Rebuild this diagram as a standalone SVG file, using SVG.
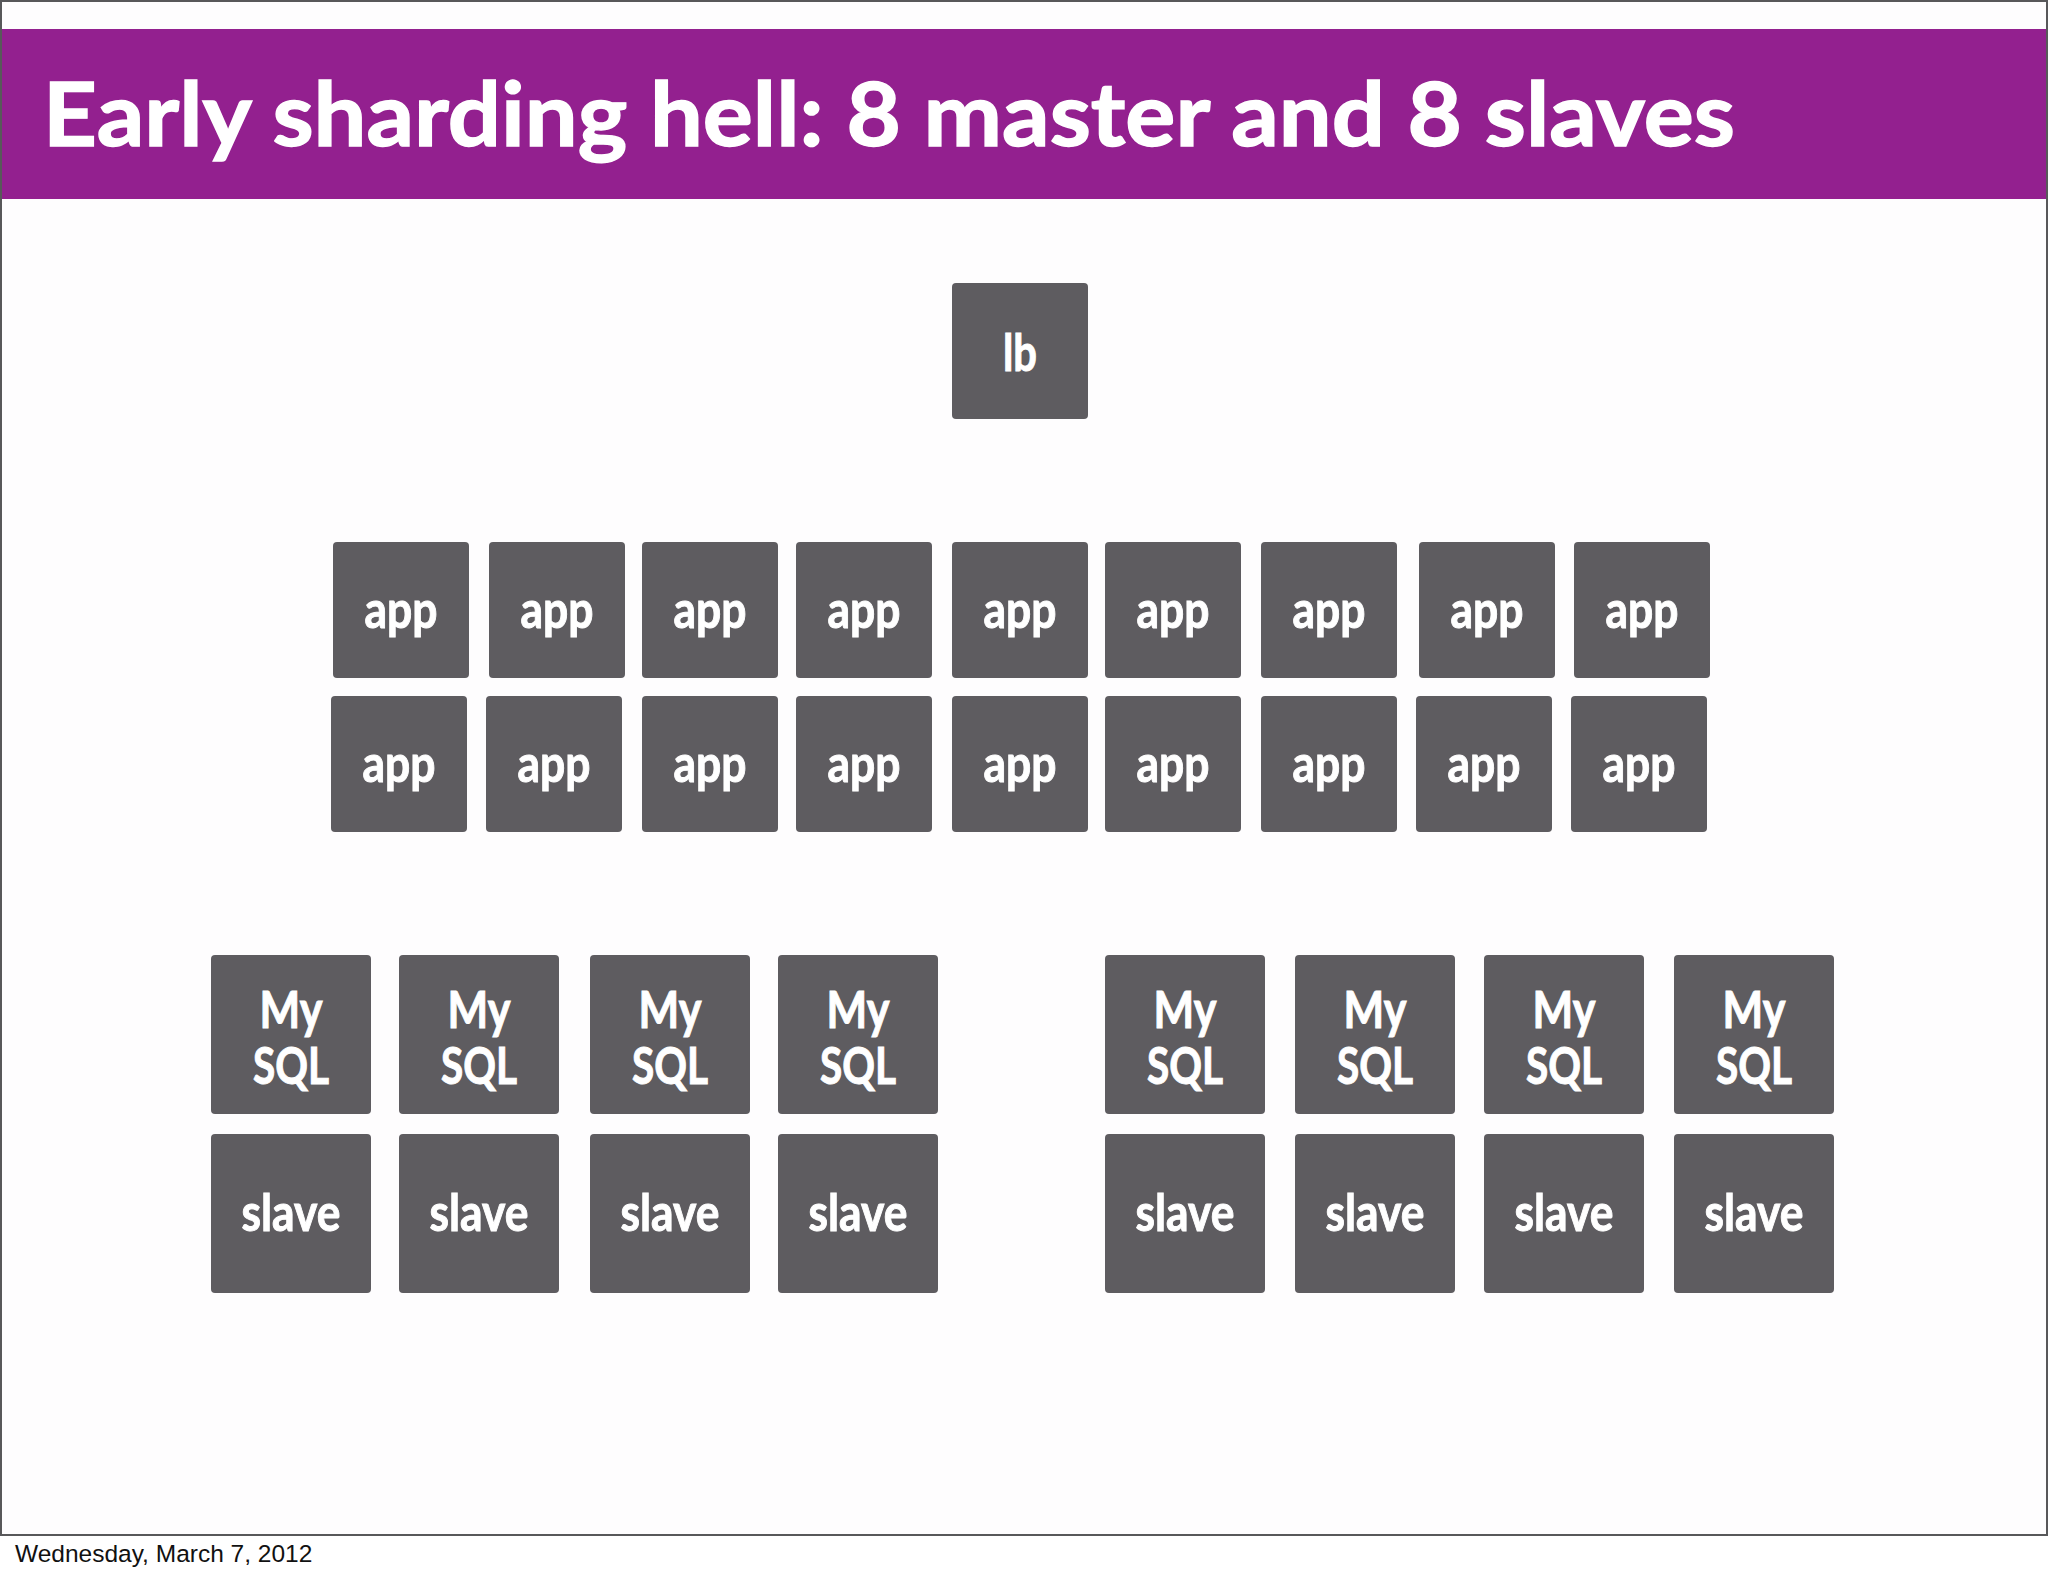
<svg xmlns="http://www.w3.org/2000/svg" width="2048" height="1576" viewBox="0 0 2048 1576">
<style>
.box{fill:#5e5c60;}
.lbl{fill:#ffffff;stroke:#ffffff;stroke-width:1;font-family:Lato,"Open Sans","Liberation Sans",sans-serif;font-weight:700;font-size:52px;text-anchor:middle;}
.title{fill:#ffffff;stroke:#ffffff;stroke-width:1.4;font-family:Lato,"Open Sans","Liberation Sans",sans-serif;font-weight:700;font-size:88px;}
.foot{fill:#111111;font-family:"Liberation Sans",Arial,sans-serif;font-size:24.5px;}
</style>
<rect x="0" y="0" width="2048" height="1576" fill="#ffffff"/>
<rect x="1" y="1" width="2046" height="1534" fill="#fefdfe" stroke="#58585a" stroke-width="2"/>
<rect x="2" y="29" width="2044" height="170" fill="#93208f"/>
<text class="title" x="43" y="146" textLength="1692" lengthAdjust="spacingAndGlyphs">Early sharding hell: 8 master and 8 slaves</text>
<g id="connectors"/>
<g id="lb"><rect class="box" x="952" y="283" width="136" height="136" rx="4"/><text class="lbl" x="1020" y="371" textLength="34" lengthAdjust="spacingAndGlyphs">lb</text></g>
<g id="app-r1-1"><rect class="box" x="333" y="542" width="136" height="136" rx="4"/><text class="lbl" x="401" y="628" textLength="73" lengthAdjust="spacingAndGlyphs">app</text></g>
<g id="app-r1-2"><rect class="box" x="489" y="542" width="136" height="136" rx="4"/><text class="lbl" x="557" y="628" textLength="73" lengthAdjust="spacingAndGlyphs">app</text></g>
<g id="app-r1-3"><rect class="box" x="642" y="542" width="136" height="136" rx="4"/><text class="lbl" x="710" y="628" textLength="73" lengthAdjust="spacingAndGlyphs">app</text></g>
<g id="app-r1-4"><rect class="box" x="796" y="542" width="136" height="136" rx="4"/><text class="lbl" x="864" y="628" textLength="73" lengthAdjust="spacingAndGlyphs">app</text></g>
<g id="app-r1-5"><rect class="box" x="952" y="542" width="136" height="136" rx="4"/><text class="lbl" x="1020" y="628" textLength="73" lengthAdjust="spacingAndGlyphs">app</text></g>
<g id="app-r1-6"><rect class="box" x="1105" y="542" width="136" height="136" rx="4"/><text class="lbl" x="1173" y="628" textLength="73" lengthAdjust="spacingAndGlyphs">app</text></g>
<g id="app-r1-7"><rect class="box" x="1261" y="542" width="136" height="136" rx="4"/><text class="lbl" x="1329" y="628" textLength="73" lengthAdjust="spacingAndGlyphs">app</text></g>
<g id="app-r1-8"><rect class="box" x="1419" y="542" width="136" height="136" rx="4"/><text class="lbl" x="1487" y="628" textLength="73" lengthAdjust="spacingAndGlyphs">app</text></g>
<g id="app-r1-9"><rect class="box" x="1574" y="542" width="136" height="136" rx="4"/><text class="lbl" x="1642" y="628" textLength="73" lengthAdjust="spacingAndGlyphs">app</text></g>
<g id="app-r2-1"><rect class="box" x="331" y="696" width="136" height="136" rx="4"/><text class="lbl" x="399" y="782" textLength="73" lengthAdjust="spacingAndGlyphs">app</text></g>
<g id="app-r2-2"><rect class="box" x="486" y="696" width="136" height="136" rx="4"/><text class="lbl" x="554" y="782" textLength="73" lengthAdjust="spacingAndGlyphs">app</text></g>
<g id="app-r2-3"><rect class="box" x="642" y="696" width="136" height="136" rx="4"/><text class="lbl" x="710" y="782" textLength="73" lengthAdjust="spacingAndGlyphs">app</text></g>
<g id="app-r2-4"><rect class="box" x="796" y="696" width="136" height="136" rx="4"/><text class="lbl" x="864" y="782" textLength="73" lengthAdjust="spacingAndGlyphs">app</text></g>
<g id="app-r2-5"><rect class="box" x="952" y="696" width="136" height="136" rx="4"/><text class="lbl" x="1020" y="782" textLength="73" lengthAdjust="spacingAndGlyphs">app</text></g>
<g id="app-r2-6"><rect class="box" x="1105" y="696" width="136" height="136" rx="4"/><text class="lbl" x="1173" y="782" textLength="73" lengthAdjust="spacingAndGlyphs">app</text></g>
<g id="app-r2-7"><rect class="box" x="1261" y="696" width="136" height="136" rx="4"/><text class="lbl" x="1329" y="782" textLength="73" lengthAdjust="spacingAndGlyphs">app</text></g>
<g id="app-r2-8"><rect class="box" x="1416" y="696" width="136" height="136" rx="4"/><text class="lbl" x="1484" y="782" textLength="73" lengthAdjust="spacingAndGlyphs">app</text></g>
<g id="app-r2-9"><rect class="box" x="1571" y="696" width="136" height="136" rx="4"/><text class="lbl" x="1639" y="782" textLength="73" lengthAdjust="spacingAndGlyphs">app</text></g>
<g id="mysql-1"><rect class="box" x="211" y="955" width="160" height="159" rx="4"/><text class="lbl" x="291" y="1028" textLength="63" lengthAdjust="spacingAndGlyphs">My</text><text class="lbl" x="291" y="1084" textLength="76" lengthAdjust="spacingAndGlyphs">SQL</text></g>
<g id="mysql-2"><rect class="box" x="399" y="955" width="160" height="159" rx="4"/><text class="lbl" x="479" y="1028" textLength="63" lengthAdjust="spacingAndGlyphs">My</text><text class="lbl" x="479" y="1084" textLength="76" lengthAdjust="spacingAndGlyphs">SQL</text></g>
<g id="mysql-3"><rect class="box" x="590" y="955" width="160" height="159" rx="4"/><text class="lbl" x="670" y="1028" textLength="63" lengthAdjust="spacingAndGlyphs">My</text><text class="lbl" x="670" y="1084" textLength="76" lengthAdjust="spacingAndGlyphs">SQL</text></g>
<g id="mysql-4"><rect class="box" x="778" y="955" width="160" height="159" rx="4"/><text class="lbl" x="858" y="1028" textLength="63" lengthAdjust="spacingAndGlyphs">My</text><text class="lbl" x="858" y="1084" textLength="76" lengthAdjust="spacingAndGlyphs">SQL</text></g>
<g id="mysql-5"><rect class="box" x="1105" y="955" width="160" height="159" rx="4"/><text class="lbl" x="1185" y="1028" textLength="63" lengthAdjust="spacingAndGlyphs">My</text><text class="lbl" x="1185" y="1084" textLength="76" lengthAdjust="spacingAndGlyphs">SQL</text></g>
<g id="mysql-6"><rect class="box" x="1295" y="955" width="160" height="159" rx="4"/><text class="lbl" x="1375" y="1028" textLength="63" lengthAdjust="spacingAndGlyphs">My</text><text class="lbl" x="1375" y="1084" textLength="76" lengthAdjust="spacingAndGlyphs">SQL</text></g>
<g id="mysql-7"><rect class="box" x="1484" y="955" width="160" height="159" rx="4"/><text class="lbl" x="1564" y="1028" textLength="63" lengthAdjust="spacingAndGlyphs">My</text><text class="lbl" x="1564" y="1084" textLength="76" lengthAdjust="spacingAndGlyphs">SQL</text></g>
<g id="mysql-8"><rect class="box" x="1674" y="955" width="160" height="159" rx="4"/><text class="lbl" x="1754" y="1028" textLength="63" lengthAdjust="spacingAndGlyphs">My</text><text class="lbl" x="1754" y="1084" textLength="76" lengthAdjust="spacingAndGlyphs">SQL</text></g>
<g id="slave-1"><rect class="box" x="211" y="1134" width="160" height="159" rx="4"/><text class="lbl" x="291" y="1231" textLength="99" lengthAdjust="spacingAndGlyphs">slave</text></g>
<g id="slave-2"><rect class="box" x="399" y="1134" width="160" height="159" rx="4"/><text class="lbl" x="479" y="1231" textLength="99" lengthAdjust="spacingAndGlyphs">slave</text></g>
<g id="slave-3"><rect class="box" x="590" y="1134" width="160" height="159" rx="4"/><text class="lbl" x="670" y="1231" textLength="99" lengthAdjust="spacingAndGlyphs">slave</text></g>
<g id="slave-4"><rect class="box" x="778" y="1134" width="160" height="159" rx="4"/><text class="lbl" x="858" y="1231" textLength="99" lengthAdjust="spacingAndGlyphs">slave</text></g>
<g id="slave-5"><rect class="box" x="1105" y="1134" width="160" height="159" rx="4"/><text class="lbl" x="1185" y="1231" textLength="99" lengthAdjust="spacingAndGlyphs">slave</text></g>
<g id="slave-6"><rect class="box" x="1295" y="1134" width="160" height="159" rx="4"/><text class="lbl" x="1375" y="1231" textLength="99" lengthAdjust="spacingAndGlyphs">slave</text></g>
<g id="slave-7"><rect class="box" x="1484" y="1134" width="160" height="159" rx="4"/><text class="lbl" x="1564" y="1231" textLength="99" lengthAdjust="spacingAndGlyphs">slave</text></g>
<g id="slave-8"><rect class="box" x="1674" y="1134" width="160" height="159" rx="4"/><text class="lbl" x="1754" y="1231" textLength="99" lengthAdjust="spacingAndGlyphs">slave</text></g>
<text class="foot" x="15" y="1562">Wednesday, March 7, 2012</text>
</svg>
